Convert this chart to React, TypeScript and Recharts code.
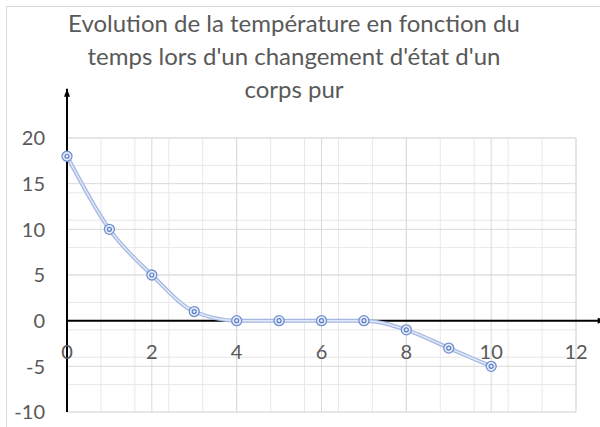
import { LineChart, Line, XAxis, YAxis, CartesianGrid, ReferenceLine } from "recharts";

const titleLines = [
  "Evolution de la température en fonction du",
  "temps lors d'un changement d'état d'un",
  "corps pur",
];

const times = [0, 1, 2, 3, 4, 5, 6, 7, 8, 9, 10];
const temperatures = [18, 10, 5, 1, 0, 0, 0, 0, -1, -3, -5];

const xTicks = [0, 2, 4, 6, 8, 10, 12];
const yTicks = [-10, -5, 0, 5, 10, 15, 20];
const xMinorTicks = [
  0, 0.4, 0.8, 1.2, 1.6, 2, 2.4, 2.8, 3.2, 3.6, 4, 4.4, 4.8, 5.2, 5.6, 6, 6.4,
  6.8, 7.2, 7.6, 8, 8.4, 8.8, 9.2, 9.6, 10, 10.4, 10.8, 11.2, 11.6, 12,
];
const yMinorTicks = [
  -10, -9, -8, -7, -6, -5, -4, -3, -2, -1, 0, 1, 2, 3, 4, 5, 6, 7, 8, 9, 10, 11,
  12, 13, 14, 15, 16, 17, 18, 19, 20,
];

const data = times.map((t, i) => ({ t, temp: temperatures[i] }));

const FONT = "Lato, 'Noto Sans', sans-serif";
const TEXT = "#595959";

function XTick(props: any) {
  const { x, y, payload } = props;
  return (
    <text x={x} y={y - 62} dy="0.36em" textAnchor="middle" fill={TEXT} fontSize={20} fontFamily={FONT}>
      {payload.value}
    </text>
  );
}

function YTick(props: any) {
  const { y, payload } = props;
  return (
    <text x={45} y={y} dy="0.36em" textAnchor="end" fill={TEXT} fontSize={20} fontFamily={FONT}>
      {payload.value}
    </text>
  );
}

function Marker(props: any) {
  const { cx, cy, index } = props;
  if (cx == null || cy == null) return null;
  return (
    <g key={`m-${index}`}>
      <circle cx={cx} cy={cy} r={5} fill="#e6ecf7" stroke="#6f8fcf" strokeWidth={1.3} />
      <circle cx={cx} cy={cy} r={2} fill="#e6ecf7" stroke="#5b7fc7" strokeWidth={1.2} />
    </g>
  );
}

function AxisArrow(props: any) {
  const { x1, y1, x2, y2 } = props;
  const vertical = Math.abs(x1 - x2) < 1;
  const tipX = vertical ? x1 : Math.max(x1, x2);
  const tipY = vertical ? Math.min(y1, y2) : y1;
  const head = vertical
    ? `${tipX},${tipY} ${tipX - 3},${tipY + 8} ${tipX + 3},${tipY + 8}`
    : `${tipX},${tipY} ${tipX - 8},${tipY - 3} ${tipX - 8},${tipY + 3}`;
  return (
    <g>
      <line x1={x1} y1={y1} x2={x2} y2={y2} stroke="#000" strokeWidth={2} />
      <polygon points={head} fill="#000" />
    </g>
  );
}

export default function App() {
  return (
    <div
      style={{
        position: "absolute",
        left: 0,
        top: 0,
        width: 600,
        height: 427,
        overflow: "hidden",
        background: "#fff",
      }}
    >
      <div
        style={{
          position: "absolute",
          left: 6,
          top: 6,
          width: 620,
          height: 440,
          border: "1px solid #d9d9d9",
        }}
      />
      <div
        style={{
          position: "absolute",
          left: -6,
          top: 6,
          width: 600,
          textAlign: "center",
          fontFamily: FONT,
          fontSize: 24,
          lineHeight: "33px",
          color: TEXT,
        }}
      >
        {titleLines.map((l) => (
          <div key={l}>{l}</div>
        ))}
      </div>
      <div style={{ position: "absolute", left: 0, top: 0 }}>
        <LineChart width={600} height={427} data={data} margin={{ top: 138, right: 24, bottom: 0, left: 0 }}>
          <XAxis xAxisId="minor" dataKey="t" type="number" domain={[0, 12]} ticks={xMinorTicks} hide />
          <YAxis yAxisId="minor" dataKey="temp" type="number" domain={[-10, 20]} ticks={yMinorTicks} hide />
          <CartesianGrid xAxisId="minor" yAxisId="minor" stroke="#e8e8e8" strokeWidth={1} />
          <XAxis
            dataKey="t"
            type="number"
            domain={[0, 12]}
            ticks={xTicks}
            height={15}
            axisLine={false}
            tickLine={false}
            tickSize={0}
            tick={<XTick />}
            interval={0}
          />
          <YAxis
            type="number"
            domain={[-10, 20]}
            ticks={yTicks}
            width={67}
            axisLine={false}
            tickLine={false}
            tick={<YTick />}
            interval={0}
          />
          <CartesianGrid stroke="#d9d9d9" strokeWidth={1} />
          <ReferenceLine
            segment={[
              { x: 0, y: -10 },
              { x: 0, y: 25.4 },
            ]}
            ifOverflow="visible"
            shape={<AxisArrow />}
          />
          <ReferenceLine
            segment={[
              { x: 0, y: 0 },
              { x: 12.7, y: 0 },
            ]}
            ifOverflow="visible"
            shape={<AxisArrow />}
          />
          <Line
            dataKey="temp"
            type="monotone"
            stroke="#a3b8e2"
            strokeWidth={4}
            dot={false}
            activeDot={false}
            isAnimationActive={false}
          />
          <Line
            dataKey="temp"
            type="monotone"
            stroke="#e3e9f6"
            strokeWidth={1.5}
            dot={<Marker />}
            activeDot={false}
            isAnimationActive={false}
          />
        </LineChart>
      </div>
    </div>
  );
}
